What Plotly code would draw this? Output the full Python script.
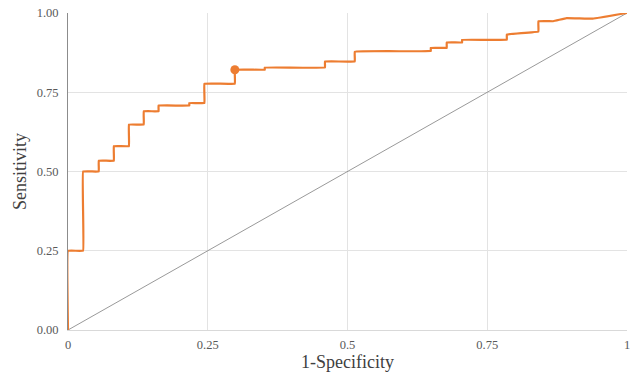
import plotly.graph_objects as go

fpr = [0, 0, 0.027, 0.027, 0.055, 0.055, 0.082, 0.082, 0.109, 0.109, 0.1355, 0.1355,
       0.162, 0.162, 0.217, 0.217, 0.244, 0.244, 0.2985, 0.2985, 0.352, 0.352,
       0.4597, 0.4597, 0.513, 0.513, 0.649, 0.649, 0.6775, 0.6775, 0.705, 0.705,
       0.785, 0.785, 0.8415, 0.8415, 0.868, 0.892, 0.939, 1.0]
tpr = [0, 0.25, 0.25, 0.50, 0.50, 0.534, 0.534, 0.58, 0.58, 0.648, 0.648, 0.69,
       0.69, 0.708, 0.708, 0.716, 0.716, 0.777, 0.777, 0.821, 0.821, 0.828,
       0.828, 0.847, 0.847, 0.878, 0.88, 0.89, 0.89, 0.907, 0.907, 0.9155,
       0.9155, 0.932, 0.942, 0.974, 0.974, 0.984, 0.982, 1.0]
cut_x = [0.2985]
cut_y = [0.821]
ref_x = [0, 1]
ref_y = [0, 1]
x_ticks = [0, 0.25, 0.5, 0.75, 1]
x_labels = ["0", "0.25", "0.5", "0.75", "1"]
y_ticks = [0, 0.25, 0.5, 0.75, 1]
y_labels = ["0.00", "0.25", "0.50", "0.75", "1.00"]

font = "Liberation Serif, serif"

fig = go.Figure()
fig.add_trace(go.Scatter(x=ref_x, y=ref_y, mode="lines",
                         line=dict(color="#7f7f7f", width=0.8), hoverinfo="skip"))
fig.add_trace(go.Scatter(x=fpr, y=tpr, mode="lines",
                         line=dict(color="#ED7D31", width=2.2, shape="spline", smoothing=0.15)))
fig.add_trace(go.Scatter(x=cut_x, y=cut_y, mode="markers",
                         marker=dict(color="#ED7D31", size=9)))

fig.update_layout(
    width=633, height=375, showlegend=False,
    margin=dict(l=68, r=6, t=12.5, b=45),
    paper_bgcolor="white", plot_bgcolor="white",
    font=dict(family=font, color="#595959", size=12.5),
)
fig.update_xaxes(range=[0, 1], tickvals=x_ticks, ticktext=x_labels, automargin=False,
                 ticklabeloverflow="allow", ticklabelstandoff=3,
                 showgrid=True, gridcolor="#e3e3e3", gridwidth=1,
                 zeroline=False, showline=True, linecolor="#d9d9d9", linewidth=1,
                 ticks="", ticklen=0,
                 title=dict(text="1-Specificity", font=dict(family=font, size=18, color="#404040"), standoff=0),
                 tickfont=dict(family=font, size=12.5, color="#595959"))
fig.update_yaxes(range=[0, 1], tickvals=y_ticks, ticktext=y_labels, automargin=False,
                 ticklabeloverflow="allow", ticklabelstandoff=6,
                 showgrid=True, gridcolor="#e3e3e3", gridwidth=1,
                 zeroline=False, showline=True, linecolor="#8c8c8c", linewidth=1,
                 ticks="", ticklen=0,
                 title=dict(text="Sensitivity", font=dict(family=font, size=18, color="#404040"), standoff=5),
                 tickfont=dict(family=font, size=12.5, color="#595959"))
fig.write_html("out.html", config={"displayModeBar": False},
               post_script="document.body.style.margin='0';")
